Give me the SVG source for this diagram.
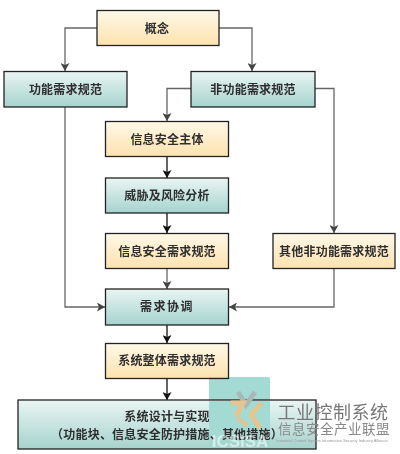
<svg xmlns="http://www.w3.org/2000/svg" width="400" height="454" viewBox="0 0 400 454">
<style>
.n{stroke-width:1.3;stroke:#222}
.y{fill:url(#gy)}
.t{fill:url(#gt)}
text{font-family:"Noto Sans CJK SC","Noto Sans CJK JP",sans-serif;font-size:12px;font-weight:700;fill:#2e2e2e;text-anchor:middle;letter-spacing:.2px}
.c{fill:none;stroke:#666;stroke-width:1.3}
.k{fill:none;stroke:#111;stroke-width:1.3}
</style>
<defs>
<linearGradient id="gy" x1="0" y1="0" x2="0" y2="1"><stop offset="0" stop-color="#fff8e8"/><stop offset="1" stop-color="#fde2ae"/></linearGradient>
<linearGradient id="gt" x1="0" y1="0" x2="0" y2="1"><stop offset="0" stop-color="#e9f5f3"/><stop offset="1" stop-color="#a6d3cd"/></linearGradient>
<marker id="ag" markerUnits="userSpaceOnUse" markerWidth="9" markerHeight="9" refX="8" refY="4.5" orient="auto"><path d="M0,0L8,4.5L0,9L2,4.5Z" fill="#444"/></marker>
<marker id="ak" markerUnits="userSpaceOnUse" markerWidth="9" markerHeight="9" refX="8" refY="4.5" orient="auto"><path d="M0,0L8,4.5L0,9L2,4.5Z" fill="#111"/></marker>
</defs>
<g id="connectors">
<path class="c" marker-end="url(#ag)" d="M97,28H65V71"/>
<path class="c" marker-end="url(#ag)" d="M219,28H252V71"/>
<path class="c" marker-end="url(#ag)" d="M191,88.500H167V121"/>
<path class="c" marker-end="url(#ag)" d="M315,88.500H334V233"/>
<path class="c" marker-end="url(#ag)" d="M65,107V307H105"/>
<path class="c" marker-end="url(#ag)" d="M334,268V307H229"/>
<path class="k" marker-end="url(#ak)" d="M167,156V178"/>
<path class="k" marker-end="url(#ak)" d="M167,213V233"/>
<path class="c" marker-end="url(#ag)" d="M167,268V289"/>
<path class="k" marker-end="url(#ak)" d="M167,325V343"/>
<path class="k" marker-end="url(#ak)" d="M167,378V400"/>
</g>
<g id="concept"><rect class="n y" x="97" y="10.500" width="122" height="35"/><text x="157" y="33">概念</text></g>
<g id="func"><rect class="n t" x="4" y="71.500" width="123" height="35.500"/><text x="65.500" y="94">功能需求规范</text></g>
<g id="nonfunc"><rect class="n t" x="191" y="71.500" width="124" height="35.500"/><text x="253" y="94">非功能需求规范</text></g>
<g id="subject"><rect class="n y" x="105.500" y="121.500" width="123" height="35"/><text x="167" y="144">信息安全主体</text></g>
<g id="threat"><rect class="n t" x="105.500" y="178" width="123" height="35"/><text x="167" y="200">威胁及风险分析</text></g>
<g id="secreq"><rect class="n y" x="105.500" y="233.500" width="123" height="35"/><text x="167" y="256">信息安全需求规范</text></g>
<g id="other"><rect class="n y" x="273" y="233.500" width="122" height="35"/><text x="334" y="256">其他非功能需求规范</text></g>
<g id="coord"><rect class="n t" x="105.500" y="289" width="123" height="36"/><text x="167" y="311" style="letter-spacing:1.500px">需求协调</text></g>
<g id="sysreq"><rect class="n y" x="105.500" y="343.500" width="123" height="35"/><text x="167" y="365">系统整体需求规范</text></g>
<g id="design"><rect class="n t" x="18" y="400" width="298" height="49"/><text x="167" y="421">系统设计与实现</text><text x="167" y="439">（功能块、信息安全防护措施、其他措施）</text></g>
<g id="watermark">
<rect x="209" y="377" width="61" height="72" rx="2" fill="#a3dbd4" style="mix-blend-mode:darken"/>
<g fill="none" stroke-width="5">
<path d="M238,392L246,405L255,392" stroke="#a9b9b7"/>
<path d="M231,403H243L236,416" stroke="#e5c48f"/>
<path d="M261,403L251,415L260,428" stroke="#e5c48f"/>
<path d="M237,417L247,426" stroke="#d9c79a"/>
</g>
<text x="240" y="447" style="font-family:'Liberation Sans',sans-serif;font-size:17px;fill:#fff;fill-opacity:.55;letter-spacing:0">ICSISA</text>
<text x="333" y="419" style="font-size:18px;font-weight:400;fill:#777;letter-spacing:.5px">工业控制系统</text>
<text x="334" y="434" style="font-size:13.500px;font-weight:400;fill:#888;letter-spacing:.5px">信息安全产业联盟</text>
<text x="332" y="442" style="font-family:'Liberation Sans',sans-serif;font-size:4px;font-weight:400;fill:#999;letter-spacing:0">Industrial Control System Information Security Industry Alliance</text>
</g>
</svg>
